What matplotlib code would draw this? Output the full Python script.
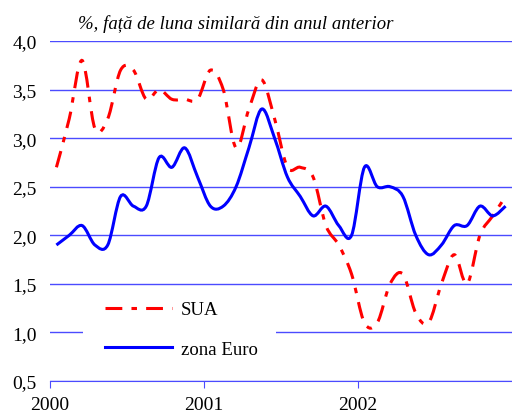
import numpy as np
import matplotlib
matplotlib.use('Agg')
import matplotlib.pyplot as plt
from matplotlib.path import Path
from matplotlib.patches import PathPatch, Rectangle
from matplotlib.lines import Line2D
from matplotlib.ticker import FuncFormatter

# rata anuala a inflatiei, lunar 2000-2002
years = ['2000', '2001', '2002']
sua = [2.7, 3.2, 3.8, 3.1, 3.2, 3.7, 3.7, 3.4, 3.5, 3.4, 3.4, 3.4,
       3.7, 3.5, 2.9, 3.3, 3.6, 3.2, 2.7, 2.7, 2.6, 2.1, 1.9, 1.6,
       1.1, 1.1, 1.5, 1.6, 1.2, 1.1, 1.5, 1.8, 1.5, 2.0, 2.2, 2.4]
euro = [1.9, 2.0, 2.1, 1.9, 1.9, 2.4, 2.3, 2.3, 2.8, 2.7, 2.9, 2.6,
        2.3, 2.3, 2.5, 2.9, 3.3, 3.0, 2.6, 2.4, 2.2, 2.3, 2.1, 2.0,
        2.7, 2.5, 2.5, 2.4, 2.0, 1.8, 1.9, 2.1, 2.1, 2.3, 2.2, 2.3]

plt.rcParams['font.family'] = ['Liberation Serif', 'DejaVu Serif']

def smooth_path(y):
    # curba neteda ca in Excel (Catmull-Rom -> Bezier)
    x = np.arange(len(y), dtype=float)
    y = np.asarray(y, dtype=float)
    pts = np.column_stack([x, y])
    verts = [pts[0]]
    codes = [Path.MOVETO]
    n = len(pts)
    for i in range(n - 1):
        p0 = pts[i - 1] if i > 0 else pts[i]
        p1 = pts[i]
        p2 = pts[i + 1]
        p3 = pts[i + 2] if i + 2 < n else pts[i + 1]
        c1 = p1 + (p2 - p0) / 6.0
        c2 = p2 - (p3 - p1) / 6.0
        verts += [c1, c2, p2]
        codes += [Path.CURVE4] * 3
    return Path(verts, codes)

fig = plt.figure(figsize=(5.12, 4.14), dpi=100)
ax = fig.add_axes([50/512, 32/414, 462/512, 340/414])

grid_col = '#4b4bff'
for v in np.arange(0.5, 4.01, 0.5):
    ax.axhline(v, color=grid_col, lw=1.0, zorder=1)

dash = (0, (5.5, 3.0, 1.8, 3.0))
red = PathPatch(smooth_path(sua), fill=False, edgecolor='#ff0000', lw=2.2,
                linestyle=dash, zorder=3, capstyle='butt')
blue = PathPatch(smooth_path(euro), fill=False, edgecolor='#0000ff', lw=2.2,
                 zorder=4)
ax.add_patch(red)
ax.add_patch(blue)

ax.set_xlim(-0.5, len(sua) - 0.5)
ax.set_ylim(0.5, 4.0)
ax.set_yticks(np.arange(0.5, 4.01, 0.5))
ax.yaxis.set_major_formatter(FuncFormatter(lambda v, p: ('%.1f' % v).replace('.', ',')))
ax.set_xticks([-0.5, 11.5, 23.5])
ax.set_xticklabels(years)

for s in ['top', 'right', 'left']:
    ax.spines[s].set_visible(False)
ax.spines['bottom'].set_color(grid_col)
ax.tick_params(axis='y', length=0, labelsize=14, pad=9.5)
ax.tick_params(axis='x', length=5, color=grid_col, labelsize=14, pad=5.5)

# fundal alb pentru legenda
ax.add_patch(Rectangle(((83-50)/462, (382-368)/340), (276-83)/462, 75/340,
                       transform=ax.transAxes, facecolor='white',
                       edgecolor='none', zorder=2))

handles = [Line2D([], [], color='#ff0000', lw=2.2, linestyle=dash),
           Line2D([], [], color='#0000ff', lw=2.2)]
leg = ax.legend(handles, ['SUA', 'zona Euro'], loc='upper left',
                bbox_to_anchor=((105-50)/462, (382-302)/340), frameon=False,
                fontsize=13.5, handlelength=3.55, handletextpad=0.48,
                labelspacing=1.2, borderpad=0, borderaxespad=0)
leg.set_zorder(5)

fig.text(78/512, 1 - 24/414, '%, față de luna similară din anul anterior',
         fontsize=13.5, style='italic', va='center', ha='left')

fig.savefig('out.png', dpi=100)
